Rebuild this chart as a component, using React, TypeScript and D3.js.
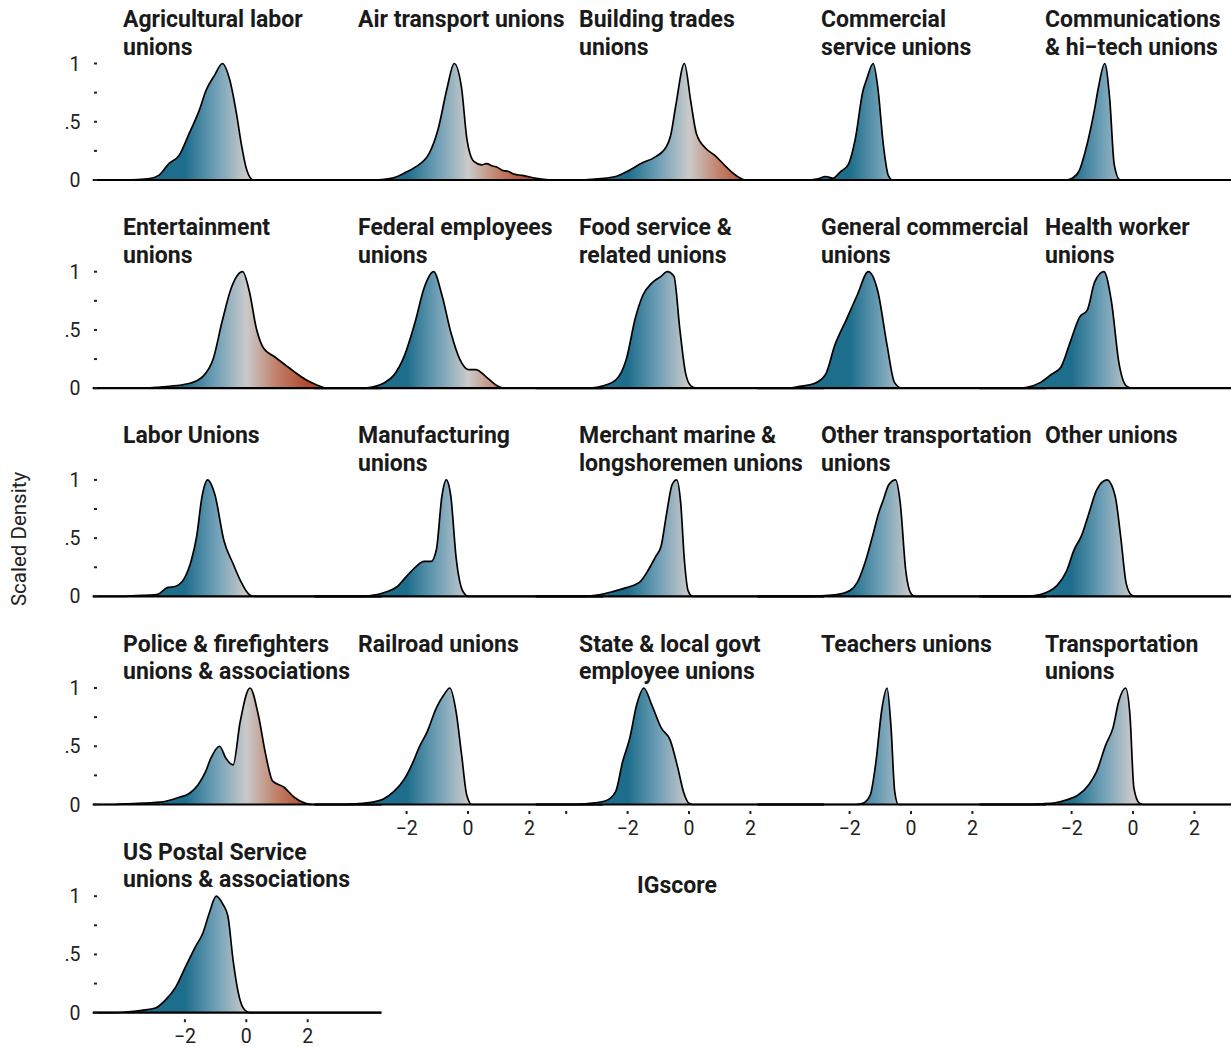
import React, { useRef, useEffect } from 'react';
import * as d3 from 'd3';

// facet titles, in panel order (5 per row)
const categories = [
  'Agricultural labor\nunions',
  'Air transport unions',
  'Building trades\nunions',
  'Commercial\nservice unions',
  'Communications\n& hi\u2212tech unions',
  'Entertainment\nunions',
  'Federal employees\nunions',
  'Food service &\nrelated unions',
  'General commercial\nunions',
  'Health worker\nunions',
  'Labor Unions',
  'Manufacturing\nunions',
  'Merchant marine &\nlongshoremen unions',
  'Other transportation\nunions',
  'Other unions',
  'Police & firefighters\nunions & associations',
  'Railroad unions',
  'State & local govt\nemployee unions',
  'Teachers unions',
  'Transportation\nunions',
  'US Postal Service\nunions & associations',
];

// scaled density curves, [IGscore, density]
const agricultural = [[-3.9, 0], [-3.2, 0.01], [-2.85, 0.04], [-2.52, 0.14], [-2.19, 0.21], [-1.86, 0.4], [-1.53, 0.6], [-1.31, 0.77], [-1.03, 0.9], [-0.78, 1], [-0.54, 0.86], [-0.32, 0.57], [-0.15, 0.29], [0.01, 0.09], [0.23, 0]];
const airTransport = [[-3.0, 0], [-2.6, 0.01], [-2.3, 0.03], [-2.07, 0.06], [-1.72, 0.11], [-1.26, 0.23], [-0.97, 0.44], [-0.68, 0.79], [-0.45, 1], [-0.21, 0.79], [-0.04, 0.36], [0.19, 0.16], [0.45, 0.13], [0.6, 0.14], [0.8, 0.12], [0.95, 0.11], [1.15, 0.08], [1.3, 0.075], [1.5, 0.05], [1.76, 0.04], [2.22, 0.015], [2.8, 0]];
const buildingTrades = [[-3.5, 0], [-3.2, 0.005], [-2.39, 0.03], [-2.04, 0.07], [-1.5, 0.15], [-1.15, 0.19], [-0.73, 0.29], [-0.6, 0.38], [-0.43, 0.64], [-0.15, 1], [0.06, 0.67], [0.24, 0.4], [0.55, 0.27], [0.85, 0.21], [1.22, 0.11], [1.58, 0.03], [1.85, 0]];
const commercialService = [[-3.3, 0], [-3.03, 0.01], [-2.78, 0.03], [-2.54, 0.015], [-2.3, 0.07], [-2.05, 0.13], [-1.81, 0.36], [-1.57, 0.76], [-1.45, 0.86], [-1.23, 1], [-1.08, 0.79], [-0.9, 0.3], [-0.74, 0.04], [-0.6, 0]];
const communications = [[-2.2, 0], [-1.98, 0.015], [-1.75, 0.08], [-1.56, 0.24], [-1.25, 0.61], [-1.13, 0.79], [-0.92, 1], [-0.76, 0.7], [-0.61, 0.13], [-0.42, 0]];
const entertainment = [[-3.3, 0], [-2.8, 0.01], [-1.86, 0.04], [-1.38, 0.11], [-1.08, 0.25], [-0.79, 0.57], [-0.49, 0.86], [-0.12, 1], [0.1, 0.83], [0.33, 0.51], [0.57, 0.34], [0.92, 0.27], [1.22, 0.21], [1.57, 0.14], [1.93, 0.075], [2.28, 0.03], [2.63, 0]];
const federal = [[-3.5, 0], [-3.23, 0.005], [-2.77, 0.04], [-2.42, 0.11], [-2.07, 0.28], [-1.72, 0.57], [-1.43, 0.86], [-1.12, 1], [-0.85, 0.8], [-0.56, 0.48], [-0.27, 0.25], [0.02, 0.16], [0.25, 0.16], [0.6, 0.095], [0.95, 0.02], [1.18, 0]];
const foodService = [[-3.3, 0], [-2.96, 0.01], [-2.39, 0.07], [-2.04, 0.25], [-1.75, 0.6], [-1.5, 0.8], [-1.22, 0.9], [-0.91, 0.96], [-0.71, 1], [-0.49, 0.96], [-0.3, 0.51], [-0.12, 0.14], [0.06, 0.02], [0.24, 0]];
const generalCommercial = [[-4.0, 0], [-3.63, 0.015], [-3.15, 0.04], [-2.78, 0.12], [-2.48, 0.37], [-2.12, 0.58], [-1.75, 0.8], [-1.39, 1], [-1.08, 0.83], [-0.78, 0.37], [-0.54, 0.05], [-0.3, 0]];
const healthWorker = [[-3.8, 0], [-3.5, 0.005], [-3.01, 0.05], [-2.65, 0.12], [-2.35, 0.18], [-2.04, 0.4], [-1.74, 0.61], [-1.49, 0.67], [-1.25, 0.91], [-0.95, 1], [-0.7, 0.74], [-0.46, 0.22], [-0.22, 0.02], [-0.04, 0]];
const laborUnions = [[-4.0, 0], [-3.74, 0.005], [-2.92, 0.015], [-2.57, 0.075], [-2.32, 0.085], [-2.03, 0.15], [-1.79, 0.31], [-1.62, 0.51], [-1.44, 0.86], [-1.26, 1], [-1.02, 0.87], [-0.73, 0.48], [-0.43, 0.28], [-0.2, 0.14], [0.1, 0.015], [0.27, 0]];
const manufacturing = [[-3.5, 0], [-3.23, 0.005], [-2.65, 0.04], [-2.3, 0.085], [-2.01, 0.17], [-1.72, 0.25], [-1.43, 0.3], [-1.2, 0.3], [-1.03, 0.4], [-0.85, 0.86], [-0.71, 1], [-0.56, 0.86], [-0.39, 0.34], [-0.16, 0.04], [0.02, 0]];
const merchantMarine = [[-3.5, 0], [-3.19, 0.005], [-2.5, 0.04], [-2.04, 0.075], [-1.58, 0.13], [-1.34, 0.22], [-1.09, 0.34], [-0.91, 0.43], [-0.73, 0.71], [-0.55, 0.96], [-0.4, 1], [-0.27, 0.8], [-0.15, 0.31], [-0.03, 0.05], [0.12, 0]];
const otherTransportation = [[-3.3, 0], [-3.03, 0.005], [-2.42, 0.015], [-1.99, 0.05], [-1.75, 0.12], [-1.51, 0.28], [-1.26, 0.51], [-1.06, 0.71], [-0.9, 0.83], [-0.72, 0.96], [-0.5, 1], [-0.35, 0.8], [-0.17, 0.22], [0.01, 0.02], [0.13, 0]];
const otherUnions = [[-3.6, 0], [-3.26, 0.005], [-2.77, 0.04], [-2.47, 0.095], [-2.16, 0.22], [-1.92, 0.4], [-1.68, 0.52], [-1.44, 0.71], [-1.19, 0.91], [-0.85, 1], [-0.58, 0.86], [-0.4, 0.51], [-0.22, 0.11], [-0.04, 0.01], [0.09, 0]];
const police = [[-4.3, 0], [-3.98, 0.005], [-2.8, 0.02], [-2.21, 0.06], [-1.86, 0.095], [-1.57, 0.17], [-1.33, 0.28], [-1.15, 0.4], [-0.87, 0.5], [-0.67, 0.4], [-0.43, 0.34], [-0.2, 0.71], [0.12, 1], [0.39, 0.77], [0.63, 0.43], [0.86, 0.2], [1.22, 0.15], [1.57, 0.06], [1.93, 0.01], [2.16, 0]];
const railroad = [[-4.0, 0], [-3.7, 0.005], [-3.12, 0.02], [-2.77, 0.045], [-2.42, 0.11], [-2.07, 0.22], [-1.78, 0.37], [-1.61, 0.48], [-1.32, 0.63], [-1.03, 0.83], [-0.79, 0.94], [-0.59, 1], [-0.39, 0.8], [-0.21, 0.43], [-0.04, 0.08], [0.13, 0]];
const stateLocal = [[-3.7, 0], [-3.42, 0.005], [-2.73, 0.03], [-2.39, 0.11], [-2.16, 0.37], [-1.93, 0.57], [-1.7, 0.86], [-1.47, 1], [-1.22, 0.86], [-0.91, 0.66], [-0.61, 0.55], [-0.36, 0.31], [-0.18, 0.11], [0, 0.01], [0.12, 0]];
const teachers = [[-1.8, 0], [-1.57, 0.01], [-1.33, 0.08], [-1.14, 0.37], [-0.96, 0.8], [-0.78, 1], [-0.65, 0.66], [-0.53, 0.11], [-0.41, 0]];
const transportation = [[-3.3, 0], [-3.01, 0.005], [-2.53, 0.015], [-2.16, 0.04], [-1.8, 0.08], [-1.44, 0.17], [-1.19, 0.28], [-0.89, 0.51], [-0.65, 0.66], [-0.46, 0.89], [-0.24, 1], [-0.1, 0.77], [0.03, 0.14], [0.21, 0.01], [0.33, 0]];
const usPostal = [[-4.3, 0], [-3.95, 0.005], [-3.4, 0.02], [-2.96, 0.04], [-2.63, 0.11], [-2.3, 0.22], [-1.97, 0.4], [-1.65, 0.57], [-1.42, 0.68], [-1.2, 0.86], [-0.98, 1], [-0.76, 0.93], [-0.6, 0.83], [-0.43, 0.45], [-0.26, 0.17], [-0.1, 0.04], [0.12, 0]];

const densities = [
  agricultural, airTransport, buildingTrades, commercialService, communications,
  entertainment, federal, foodService, generalCommercial, healthWorker,
  laborUnions, manufacturing, merchantMarine, otherTransportation, otherUnions,
  police, railroad, stateLocal, teachers, transportation,
  usPostal,
];

const yTicks = [0, 0.25, 0.5, 0.75, 1];
const yTickLabels = ['0', '', '.5', '', '1'];
const xTicks = [-2, 0, 2];
const xTickLabels = ['\u22122', '0', '2'];
// fill colour along the IGscore axis
const fillStops = [-2, -1, 0, 1, 2];
const fillColors = ['#1d6d8c', '#6e9fb6', '#cacaca', '#c27f68', '#b0492d'];

const W = 1231;
const H = 1047;
const colZero = [246.3, 468, 689, 911, 1133];
const titleX = [123, 358, 579, 821, 1045];
const rowBase = [180, 388.2, 596.4, 804.5, 1012.7];
const unit = 30.7;
const peakH = 116.5;
const xDomain = [-5, 4.4];
const font = 'Roboto, sans-serif';

function App() {
  const ref = useRef(null);

  useEffect(() => {
    const svg = d3.select(ref.current);
    svg.selectAll('*').remove();
    const defs = svg.append('defs');

    densities.forEach((pts, i) => {
      const row = Math.floor(i / 5);
      const col = i % 5;
      const base = rowBase[row];
      const zero = colZero[col];

      const x = d3
        .scaleLinear()
        .domain(xDomain)
        .range([zero + xDomain[0] * unit, zero + xDomain[1] * unit]);
      const y = d3.scaleLinear().domain([0, 1]).range([base, base - peakH]);

      const gid = `fill-${i}`;
      const grad = defs
        .append('linearGradient')
        .attr('id', gid)
        .attr('gradientUnits', 'userSpaceOnUse')
        .attr('x1', x(-2))
        .attr('x2', x(2))
        .attr('y1', 0)
        .attr('y2', 0);
      fillStops.forEach((s, k) => {
        grad
          .append('stop')
          .attr('offset', (s + 2) / 4)
          .attr('stop-color', fillColors[k]);
      });

      const data = [[xDomain[0], 0], ...pts, [xDomain[1], 0]];
      const area = d3
        .area()
        .x((d) => x(d[0]))
        .y0(base)
        .y1((d) => y(d[1]))
        .curve(d3.curveMonotoneX);
      const line = d3
        .line()
        .x((d) => x(d[0]))
        .y((d) => y(d[1]))
        .curve(d3.curveMonotoneX);

      const g = svg.append('g');
      g.append('path').datum(data).attr('d', area).attr('fill', `url(#${gid})`);
      g.append('line')
        .attr('x1', x(xDomain[0]))
        .attr('x2', x(xDomain[1]))
        .attr('y1', base)
        .attr('y2', base)
        .attr('stroke', '#000')
        .attr('stroke-width', 2.2);
      g.append('path')
        .datum(data)
        .attr('d', line)
        .attr('fill', 'none')
        .attr('stroke', '#000')
        .attr('stroke-width', 1.7)
        .attr('stroke-linejoin', 'round');

      // facet title
      const lines = categories[i].split('\n');
      const t = svg
        .append('text')
        .attr('font-family', font)
        .attr('font-weight', 700)
        .attr('font-size', 23)
        .attr('fill', '#1a1a1a');
      lines.forEach((ln, k) => {
        t.append('tspan')
          .attr('x', titleX[col])
          .attr('y', base - 153 + k * 27.5)
          .text(ln);
      });

      // y axis on first column
      if (col === 0) {
        yTicks.forEach((v, k) => {
          svg.append('line')
            .attr('x1', 94)
            .attr('x2', 97)
            .attr('y1', y(v))
            .attr('y2', y(v))
            .attr('stroke', '#222')
            .attr('stroke-width', 2);
          if (yTickLabels[k]) {
            svg.append('text')
              .attr('x', 80.5)
              .attr('y', y(v) + 7)
              .attr('text-anchor', 'end')
              .attr('font-family', font)
              .attr('font-size', 19.5)
              .attr('fill', '#222')
              .text(yTickLabels[k]);
          }
        });
      }

      // x axis on panels with nothing below
      if (i + 5 >= densities.length) {
        const marks = i === 17 ? [-4, ...xTicks] : xTicks;
        marks.forEach((v) => {
          svg.append('line')
            .attr('x1', x(v))
            .attr('x2', x(v))
            .attr('y1', base + 6.5)
            .attr('y2', base + 9.5)
            .attr('stroke', '#222')
            .attr('stroke-width', 2);
        });
        xTicks.forEach((v, k) => {
          svg.append('text')
            .attr('x', x(v))
            .attr('y', base + 30)
            .attr('text-anchor', 'middle')
            .attr('font-family', font)
            .attr('font-size', 19.5)
            .attr('fill', '#222')
            .text(xTickLabels[k]);
        });
      }
    });

    svg.append('text')
      .attr('x', 677)
      .attr('y', 893)
      .attr('text-anchor', 'middle')
      .attr('font-family', font)
      .attr('font-weight', 700)
      .attr('font-size', 23)
      .attr('fill', '#1a1a1a')
      .text('IGscore');

    svg.append('text')
      .attr('transform', 'translate(26,539) rotate(-90)')
      .attr('text-anchor', 'middle')
      .attr('font-family', font)
      .attr('font-size', 20.5)
      .attr('fill', '#222')
      .text('Scaled Density');
  }, []);

  return (
    <svg
      ref={ref}
      width={W}
      height={H}
      style={{ position: 'absolute', left: 0, top: 0, background: '#fff' }}
    />
  );
}

export default App;
